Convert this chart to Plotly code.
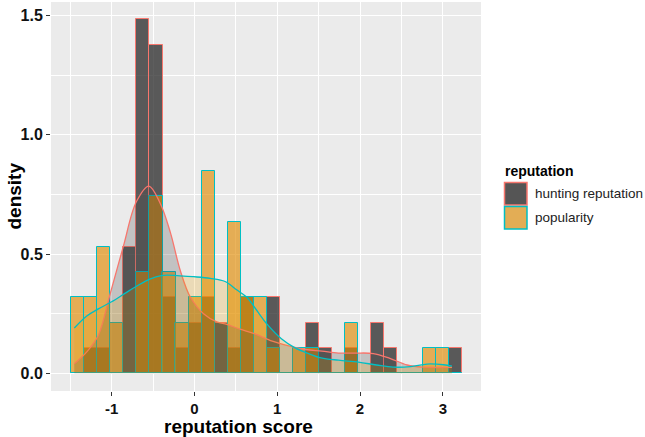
import plotly.graph_objects as go

# ---- data ----
series_names = ["hunting reputation", "popularity"]
legend_title = "reputation"

bin_centers = [-1.408, -1.251, -1.094, -0.936, -0.779, -0.622, -0.464, -0.307, -0.150, 0.008,
               0.165, 0.322, 0.480, 0.637, 0.794, 0.952, 1.109, 1.266, 1.423, 1.581,
               1.738, 1.895, 2.053, 2.210, 2.367, 2.525, 2.682, 2.839, 2.996, 3.154]

hunting_density = [0.0, 0.106, 0.106, 0.0, 0.53, 1.484, 1.378, 0.318, 0.106, 0.212,
                   0.318, 0.212, 0.106, 0.318, 0.0, 0.318, 0.0, 0.0, 0.212, 0.106,
                   0.0, 0.106, 0.0, 0.212, 0.106, 0.0, 0.0, 0.0, 0.0, 0.106]

popularity_density = [0.318, 0.318, 0.53, 0.212, 0.0, 0.424, 0.742, 0.424, 0.212, 0.318,
                      0.848, 0.0, 0.636, 0.318, 0.318, 0.106, 0.0, 0.106, 0.106, 0.0,
                      0.0, 0.212, 0.0, 0.0, 0.0, 0.0, 0.0, 0.106, 0.106, 0.0]

hunting_kde_x = [-1.45, -1.30, -1.16, -1.02, -0.86, -0.70, -0.55, -0.41, -0.29, -0.17,
                 -0.05, 0.11, 0.27, 0.39, 0.55, 0.73, 0.94, 1.14, 1.34, 1.54,
                 1.74, 1.94, 2.16, 2.36, 2.57, 2.77, 3.11]
hunting_kde_y = [0.04, 0.09, 0.16, 0.33, 0.53, 0.72, 0.785, 0.71, 0.59, 0.43,
                 0.32, 0.25, 0.216, 0.205, 0.185, 0.165, 0.135, 0.115, 0.10, 0.093,
                 0.085, 0.085, 0.083, 0.063, 0.035, 0.026, 0.025]

popularity_kde_x = [-1.45, -1.30, -1.16, -1.00, -0.84, -0.70, -0.54, -0.40, -0.21, -0.01,
                    0.19, 0.37, 0.51, 0.63, 0.73, 0.88, 1.05, 1.21, 1.37, 1.53,
                    1.74, 1.98, 2.20, 2.40, 2.61, 2.81, 3.01, 3.11]
popularity_kde_y = [0.19, 0.24, 0.27, 0.30, 0.335, 0.365, 0.395, 0.41, 0.41, 0.405,
                    0.398, 0.385, 0.35, 0.32, 0.275, 0.205, 0.145, 0.108, 0.084, 0.065,
                    0.055, 0.047, 0.035, 0.026, 0.028, 0.039, 0.036, 0.03]

x_ticks = [-1, 0, 1, 2, 3]
x_tick_labels = ["-1", "0", "1", "2", "3"]
y_ticks = [0.0, 0.5, 1.0, 1.5]
y_tick_labels = ["0.0", "0.5", "1.0", "1.5"]

# ---- styles ----
BIN_WIDTH = 0.1573
RED = "#F8766D"
TEAL = "#00BFC4"
HUNT_FILL = "rgba(40,40,40,0.75)"
POP_FILL = "rgba(225,140,4,0.65)"
HUNT_DENS_FILL = "rgba(70,70,70,0.25)"
POP_DENS_FILL = "rgba(230,159,0,0.22)"
KEY_FILLS = ["#555555", "#E3AD55"]
KEY_LINES = [RED, TEAL]
FONT = "Liberation Sans, Arial, sans-serif"

fig = go.Figure()

fig.add_trace(go.Bar(x=bin_centers, y=hunting_density, width=BIN_WIDTH,
                     marker=dict(color=HUNT_FILL, line=dict(color=RED, width=1)),
                     name=series_names[0]))
fig.add_trace(go.Bar(x=bin_centers, y=popularity_density, width=BIN_WIDTH,
                     marker=dict(color=POP_FILL, line=dict(color=TEAL, width=1)),
                     name=series_names[1]))

fig.add_trace(go.Scatter(x=hunting_kde_x, y=hunting_kde_y, mode="lines",
                         line=dict(color=RED, width=1.3, shape="spline", smoothing=1.0),
                         fill="tozeroy", fillcolor=HUNT_DENS_FILL,
                         name=series_names[0]))
fig.add_trace(go.Scatter(x=popularity_kde_x, y=popularity_kde_y, mode="lines",
                         line=dict(color=TEAL, width=1.3, shape="spline", smoothing=1.0),
                         fill="tozeroy", fillcolor=POP_DENS_FILL,
                         name=series_names[1]))

# ---- manual legend (paper coordinates; plot area is 430 x 389 px) ----
def px_x(px):
    return (px - 51) / 430.0

def px_y(py):
    return (391 - py) / 389.0

shapes = []
annotations = [
    dict(text="<b>%s</b>" % legend_title, xref="paper", yref="paper",
         x=px_x(503), y=px_y(170.7), xanchor="left", yanchor="middle",
         showarrow=False, font=dict(size=14, color="black")),
]
key_tops = [182.5, 206.5]
for i, name in enumerate(series_names):
    top = key_tops[i]
    shapes.append(dict(type="rect", xref="paper", yref="paper",
                       x0=px_x(504.5), x1=px_x(527), y0=px_y(top + 22.5), y1=px_y(top),
                       fillcolor=KEY_FILLS[i], line=dict(color=KEY_LINES[i], width=1.5)))
    annotations.append(dict(text=name, xref="paper", yref="paper",
                            x=px_x(533), y=px_y(top + 11.3), xanchor="left", yanchor="middle",
                            showarrow=False, font=dict(size=13.5, color="#222222")))

annotations += [
    dict(text="<b>reputation score</b>", xref="paper", yref="paper",
         x=px_x(238), y=px_y(426), xanchor="center", yanchor="middle",
         showarrow=False, font=dict(size=19, color="black")),
    dict(text="<b>density</b>", xref="paper", yref="paper",
         x=px_x(14), y=0.5, xanchor="center", yanchor="middle", textangle=-90,
         showarrow=False, font=dict(size=19, color="black")),
]

fig.update_layout(
    width=645, height=437,
    margin=dict(l=51, r=164, t=2, b=46, autoexpand=False),
    paper_bgcolor="white",
    plot_bgcolor="#EBEBEB",
    barmode="overlay",
    bargap=0,
    showlegend=False,
    font=dict(family=FONT, color="black"),
    xaxis=dict(
        range=[-1.732, 3.461], automargin=False,
        tickvals=x_ticks, ticktext=x_tick_labels,
        tickfont=dict(size=15, weight="bold", color="#111111"),
        ticks="outside", ticklen=4, tickcolor="#333333", tickwidth=1,
        showgrid=True, gridcolor="white", gridwidth=1.1,
        minor=dict(dtick=0.5, tick0=0, showgrid=True, gridcolor="white", gridwidth=0.5, ticks=""),
        zeroline=False, showline=False,
    ),
    yaxis=dict(
        range=[-0.074, 1.5565], automargin=False,
        tickvals=y_ticks, ticktext=y_tick_labels,
        tickfont=dict(size=16, weight="bold", color="#111111"),
        ticks="outside", ticklen=4, tickcolor="#333333", tickwidth=1,
        showgrid=True, gridcolor="white", gridwidth=1.1,
        minor=dict(dtick=0.25, tick0=0, showgrid=True, gridcolor="white", gridwidth=0.5, ticks=""),
        zeroline=False, showline=False,
    ),
    shapes=shapes,
    annotations=annotations,
)

fig.write_html("out.html", config={"displayModeBar": False},
               post_script="document.body.style.margin='0';")
